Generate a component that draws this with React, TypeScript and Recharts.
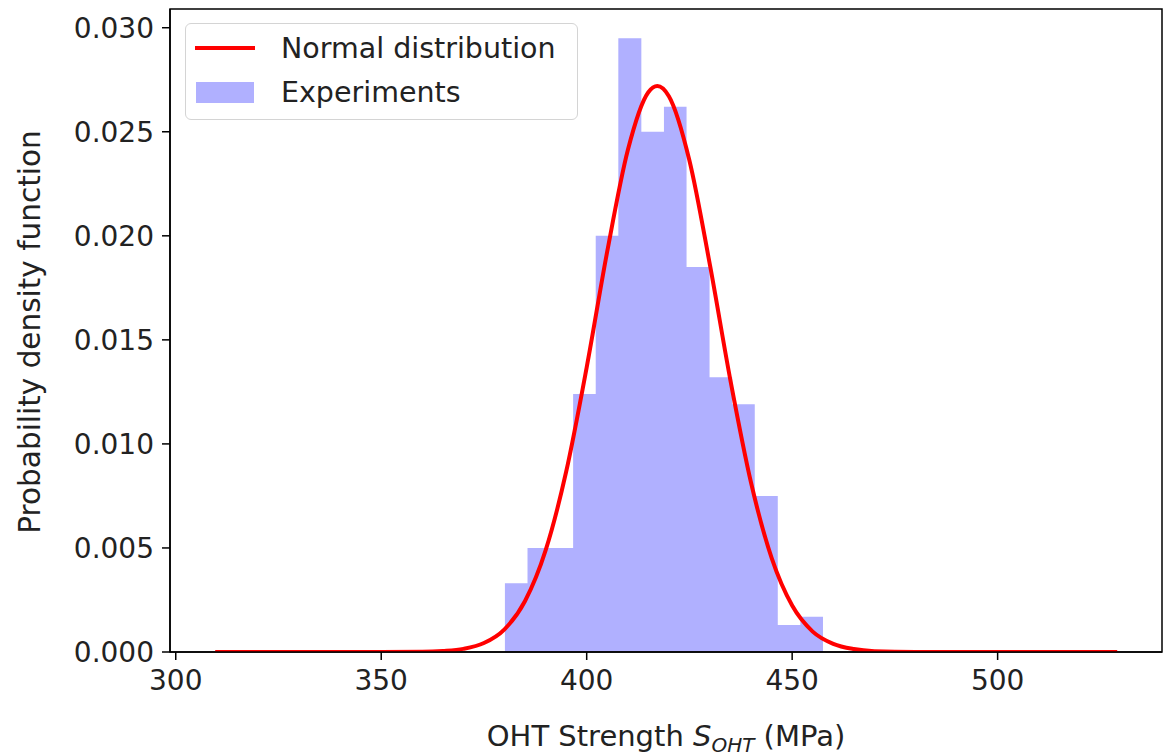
import {
  Area,
  ComposedChart,
  Legend,
  Line,
  ReferenceArea,
  XAxis,
  YAxis,
} from "recharts";

// histogram bin edges (MPa) and density per bin
const strengthEdges = [
  380.1, 385.6, 391.1, 396.7, 402.2, 407.7, 413.3, 418.8, 424.3, 429.9, 435.4,
  440.9, 446.5, 452.0, 457.5,
];
const experimentDensity = [
  0.0033, 0.005, 0.005, 0.0124, 0.02, 0.0295, 0.025, 0.0262, 0.0185, 0.0132,
  0.0119, 0.0075, 0.0013, 0.0017,
];

// fitted normal curve, sampled from the figure
const curveStrength = [
  309.6, 330, 350, 360, 365, 370, 375, 380, 385, 390, 395, 400, 405, 410, 415,
  417.2, 420, 425, 430, 435, 440, 445, 450, 455, 460, 465, 470, 480, 500, 529.1,
];
const curveDensity = [
  0, 0, 0, 0.00001, 0.00005, 0.00015, 0.00043, 0.00109, 0.00245, 0.00488,
  0.00866, 0.01368, 0.01925, 0.02411, 0.0269, 0.0272, 0.02671, 0.02362, 0.01859,
  0.01303, 0.00813, 0.00452, 0.00223, 0.00098, 0.00039, 0.00014, 0.00004, 0, 0,
  0,
];

const xTicks = [300, 350, 400, 450, 500];
const yTicks = [0, 0.005, 0.01, 0.015, 0.02, 0.025, 0.03];
const X_DOMAIN: [number, number] = [298.6, 540];
const Y_DOMAIN: [number, number] = [0, 0.0309];

// step area needs the last edge repeated so the final bin gets its width
const histData = [
  ...experimentDensity.map((y, i) => ({ x: strengthEdges[i], y })),
  {
    x: strengthEdges[strengthEdges.length - 1],
    y: experimentDensity[experimentDensity.length - 1],
  },
];
const curveData = curveStrength.map((x, i) => ({ x, y: curveDensity[i] }));

const FONT = "DejaVu Sans";
const TICK = { fill: "#222", fontSize: 28, fontFamily: FONT };

function XTitle() {
  return (
    <text
      x={666}
      y={746}
      textAnchor="middle"
      fill="#222"
      fontSize={29}
      fontFamily={FONT}
    >
      OHT Strength <tspan fontStyle="italic">S</tspan>
      <tspan fontStyle="italic" fontSize={20} dy={6}>
        OHT
      </tspan>
      <tspan dy={-6}> (MPa)</tspan>
    </text>
  );
}

function YTitle() {
  return (
    <text
      x={30}
      y={332}
      transform="rotate(-90, 30, 332)"
      textAnchor="middle"
      dominantBaseline="central"
      fill="#222"
      fontSize={29.5}
      fontFamily={FONT}
    >
      Probability density function
    </text>
  );
}

function LegendBox() {
  const row = { display: "flex", alignItems: "center", height: 44 } as const;
  return (
    <div
      style={{
        width: 393,
        height: 97,
        boxSizing: "border-box",
        border: "1.5px solid #d4d4d4",
        borderRadius: 6,
        background: "rgba(255,255,255,0.85)",
        padding: "2px 0 0 9px",
        fontFamily: FONT,
        fontSize: 28.5,
        color: "#222",
      }}
    >
      <div style={row}>
        <span
          style={{ width: 60, height: 4, background: "#ff0000", marginRight: 26 }}
        />
        Normal distribution
      </div>
      <div style={row}>
        <span
          style={{ width: 58, height: 21, background: "#b0b0ff", margin: "0 27px 0 1px" }}
        />
        Experiments
      </div>
    </div>
  );
}

export default function App() {
  return (
    <div
      style={{
        position: "absolute",
        left: 0,
        top: 0,
        width: 1165,
        height: 756,
        background: "#fff",
      }}
    >
      <ComposedChart
        width={1165}
        height={756}
        margin={{ top: 9, right: 3, bottom: 0, left: 0 }}
        style={{ fontFamily: FONT }}
      >
        <XAxis
          type="number"
          dataKey="x"
          domain={X_DOMAIN}
          ticks={xTicks}
          allowDataOverflow
          height={104}
          tickSize={8}
          tickMargin={10}
          tick={TICK}
          stroke="#000"
          strokeWidth={1.5}
          label={<XTitle />}
        />
        <YAxis
          type="number"
          domain={Y_DOMAIN}
          ticks={yTicks}
          allowDataOverflow
          width={170}
          tickSize={8}
          tickMargin={8}
          tick={TICK}
          tickFormatter={(v: number) => v.toFixed(3)}
          stroke="#000"
          strokeWidth={1.5}
          label={<YTitle />}
        />
        <Area
          data={histData}
          type="stepAfter"
          dataKey="y"
          stroke="none"
          fill="#b0b0ff"
          fillOpacity={1}
          isAnimationActive={false}
        />
        <Line
          data={curveData}
          type="monotone"
          dataKey="y"
          stroke="#ff0000"
          strokeWidth={4}
          dot={false}
          isAnimationActive={false}
        />
        <ReferenceArea
          x1={X_DOMAIN[0]}
          x2={X_DOMAIN[1]}
          y1={Y_DOMAIN[0]}
          y2={Y_DOMAIN[1]}
          fill="none"
          stroke="#000"
          strokeWidth={1.5}
          ifOverflow="visible"
        />
        <Legend
          layout="vertical"
          align="center"
          verticalAlign="middle"
          content={<LegendBox />}
          wrapperStyle={{ left: 185, top: 23, width: 393, height: 97 }}
        />
      </ComposedChart>
    </div>
  );
}
